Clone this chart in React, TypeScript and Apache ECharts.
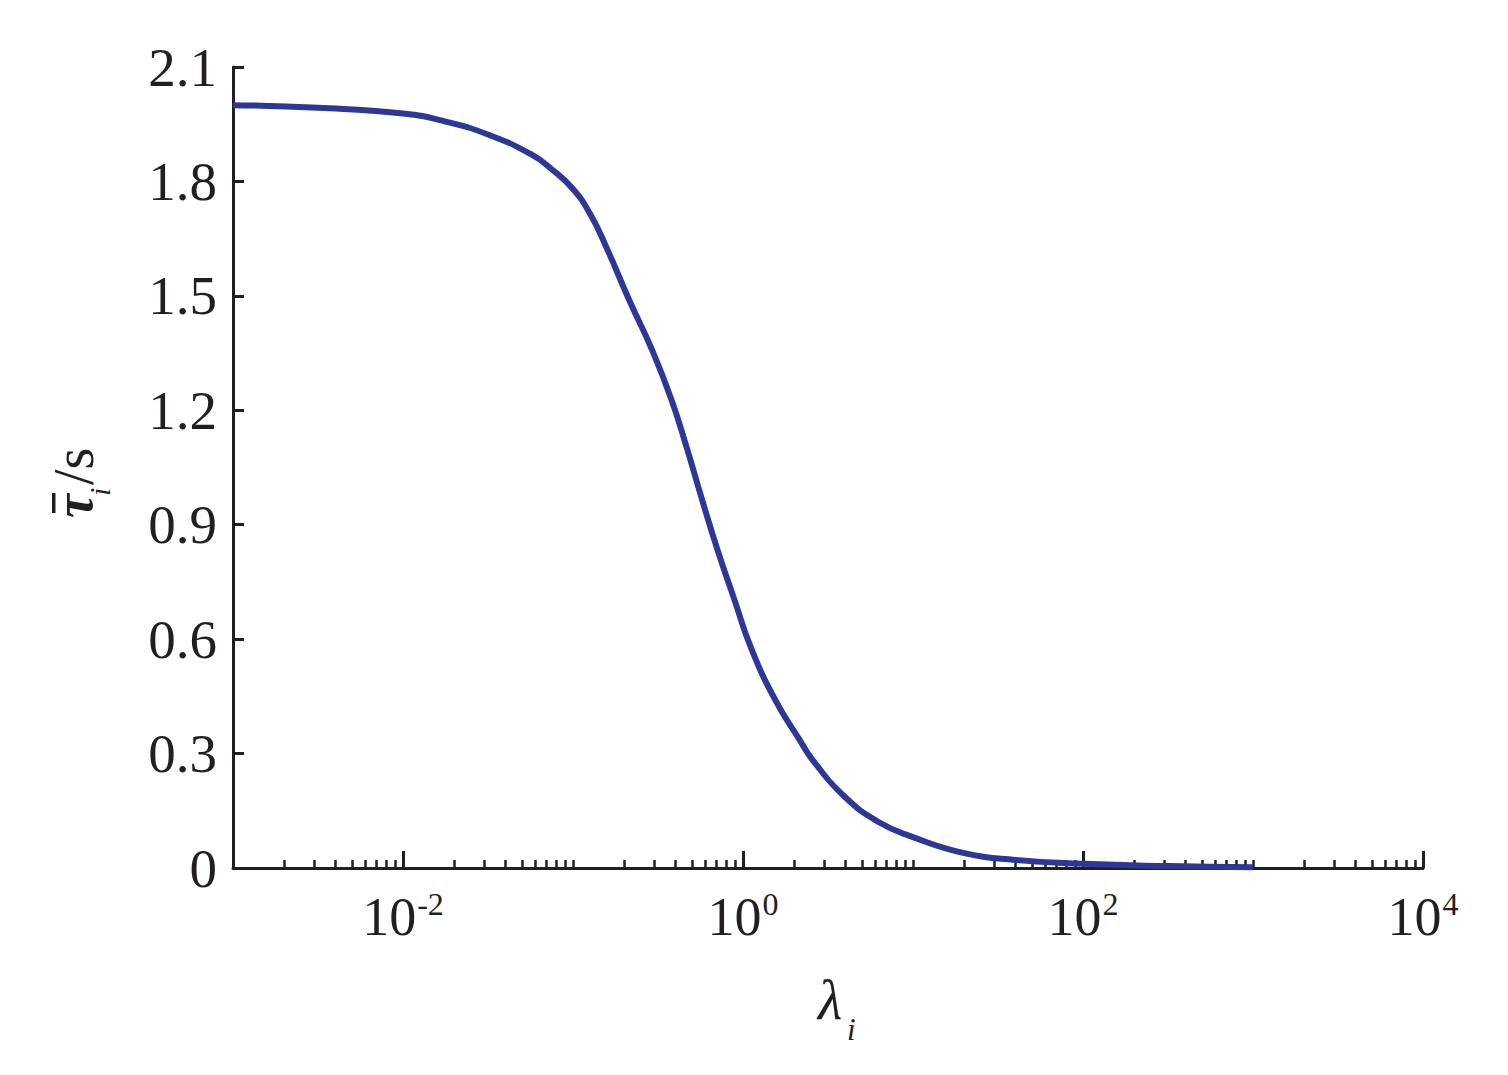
import React, { useEffect, useRef } from "react";
import * as echarts from "echarts";

// λ_i values
const lambdaValues = [
  0.001, 0.00316, 0.01, 0.0178, 0.0316, 0.0562, 0.075, 0.1, 0.126, 0.158, 0.214,
  0.292, 0.38, 0.468, 0.575, 0.708, 0.891, 1.12, 1.55, 2.14, 2.57, 3.98, 6.31, 10,
  20, 39.8, 100, 316, 1000,
];
// mean τ_i / s
const tauValues = [
  2.0, 1.993, 1.978, 1.957, 1.923, 1.872, 1.832, 1.78, 1.715, 1.625, 1.489, 1.358,
  1.227, 1.1, 0.965, 0.834, 0.703, 0.575, 0.44, 0.338, 0.283, 0.186, 0.12, 0.081,
  0.039, 0.021, 0.011, 0.005, 0.002,
];
// labelled decades (exponents of 10)
const majorExponents = [-2, 0, 2, 4];
// decades holding minor ticks
const minorDecades = [-3, -2, -1, 0, 1, 2, 3];
const minorMultipliers = [2, 3, 4, 5, 6, 7, 8, 9];
// odd decades drawn with minor ticks
const oddDecades = [-1, 1, 3];

const FONT = "'Liberation Serif', 'Times New Roman', serif";
const INK = "#231f20";
const LINE = "#2d3796";

export default function App() {
  const ref = useRef<HTMLDivElement>(null);
  useEffect(() => {
    if (!ref.current) return;
    const chart = echarts.init(ref.current, undefined, { renderer: "svg" });
    const minorLog: number[] = [];
    minorDecades.forEach((d) =>
      minorMultipliers.forEach((m) => minorLog.push(Math.log10(m * Math.pow(10, d))))
    );
    oddDecades.forEach((d) => minorLog.push(d));

    const option: any = {
      animation: false,
      backgroundColor: "#ffffff",
      grid: { left: 225, top: 59, width: 1190, height: 801, containLabel: false },
      xAxis: [
        {
          type: "value",
          min: -3,
          max: 4,
          position: "bottom",
          axisLine: { show: true, onZero: false, lineStyle: { color: INK, width: 3 } },
          axisTick: {
            show: true,
            inside: true,
            length: 17,
            customValues: majorExponents,
            lineStyle: { color: INK, width: 3 },
          },
          axisLabel: {
            show: true,
            customValues: majorExponents,
            margin: 20,
            formatter: (v: number) => `{b|10}{s|${v}}`,
            rich: {
              b: { fontFamily: FONT, fontSize: 54, color: INK, lineHeight: 58 },
              s: { fontFamily: FONT, fontSize: 32, color: INK, verticalAlign: "top", lineHeight: 30, padding: [0, 0, 0, 1] },
            },
          },
          splitLine: { show: false },
        },
        {
          type: "value",
          min: -3,
          max: 4,
          position: "bottom",
          offset: 0,
          axisLine: { show: false, onZero: false },
          axisTick: {
            show: true,
            inside: true,
            length: 8,
            customValues: minorLog,
            lineStyle: { color: INK, width: 2.5 },
          },
          axisLabel: { show: false },
          splitLine: { show: false },
        },
      ],
      yAxis: {
        type: "value",
        min: 0,
        max: 2.1,
        interval: 0.3,
        axisLine: { show: true, onZero: false, lineStyle: { color: INK, width: 3 } },
        axisTick: { show: true, inside: true, length: 11, lineStyle: { color: INK, width: 3 } },
        axisLabel: {
          fontFamily: FONT,
          fontSize: 55,
          color: INK,
          margin: 16,
          formatter: (v: number) => (Math.abs(v) < 1e-9 ? "0" : v.toFixed(1)),
        },
        splitLine: { show: false },
      },
      graphic: [
        {
          type: "group",
          x: 72,
          y: 472,
          rotation: Math.PI / 2,
          children: [
            {
              type: "text",
              x: -38,
              y: -6,
              style: { text: "τ", fontFamily: FONT, fontSize: 54, fontStyle: "italic", fontWeight: "bold", fill: INK, align: "left", verticalAlign: "middle" },
            },
            {
              type: "rect",
              shape: { x: -33, y: -28, width: 20, height: 3.5 },
              style: { fill: INK },
            },
            {
              type: "text",
              x: -16,
              y: 19,
              style: { text: "i", fontFamily: FONT, fontSize: 30, fontStyle: "italic", fill: INK, align: "left", verticalAlign: "middle" },
            },
            {
              type: "text",
              x: -5,
              y: -6,
              style: { text: "/s", fontFamily: FONT, fontSize: 56, fill: INK, align: "left", verticalAlign: "middle" },
            },
          ],
        },
        {
          type: "text",
          x: 810,
          y: 992,
          style: { text: "λ", fontFamily: FONT, fontSize: 56, fontStyle: "italic", fill: INK, align: "left", verticalAlign: "middle" },
        },
        {
          type: "text",
          x: 839,
          y: 1021,
          style: { text: "i", fontFamily: FONT, fontSize: 31, fontStyle: "italic", fill: INK, align: "left", verticalAlign: "middle" },
        },
      ],
      series: [
        {
          type: "line",
          xAxisIndex: 0,
          yAxisIndex: 0,
          data: lambdaValues.map((l, i) => [Math.log10(l), tauValues[i]]),
          smooth: 0.5,
          showSymbol: false,
          symbol: "none",
          lineStyle: { color: LINE, width: 6 },
          itemStyle: { color: LINE },
          z: 5,
        },
      ],
    };
    chart.setOption(option);
    return () => chart.dispose();
  }, []);
  return <div ref={ref} style={{ width: 1492, height: 1059 }} />;
}
